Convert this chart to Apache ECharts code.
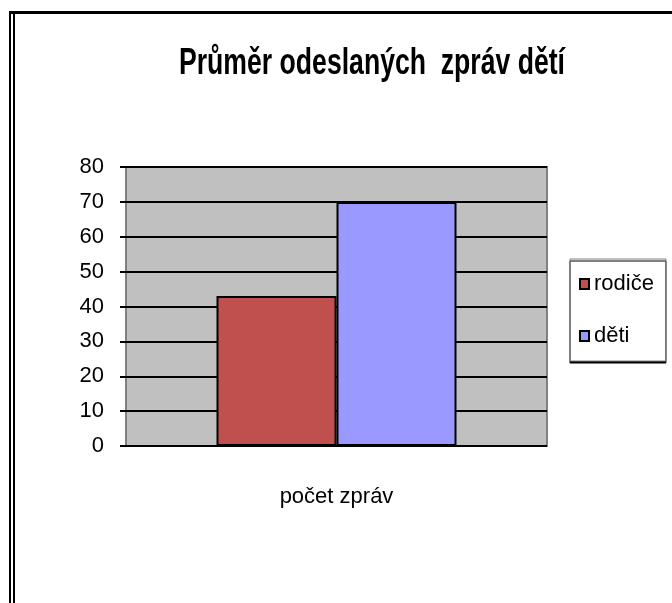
<!DOCTYPE html>
<html>
<head>
<meta charset="utf-8">
<script src="https://cdn.jsdelivr.net/npm/echarts@6/dist/echarts.min.js"></script>
<style>
  html, body { margin: 0; padding: 0; background: #fff; }
  #chart { width: 672px; height: 603px; }
</style>
</head>
<body>
<div id="chart"></div>
<script>
// chart data
const categories = ["počet zpráv"];
const seriesNames = ["rodiče", "děti"];
const parentsValues = [43];
const childrenValues = [70];
const yTicks = [0, 10, 20, 30, 40, 50, 60, 70, 80];
const titleText = "Průměr odeslaných  zpráv dětí";

const FONT = '"Liberation Sans", Arial, sans-serif';

// squeeze the title to the narrow width of the original
function titleScale() {
  const ctx = document.createElement("canvas").getContext("2d");
  ctx.font = "bold 36px " + FONT;
  const w = ctx.measureText(titleText).width;
  return 386 / w;
}

const chart = echarts.init(document.getElementById("chart"));

const option = {
  backgroundColor: "#ffffff",
  animation: false,
  textStyle: { fontFamily: FONT, color: "#000" },
  grid: {
    left: 126,
    right: 125,
    top: 167,
    bottom: 157,
    show: true,
    backgroundColor: "#c0c0c0",
    borderColor: "#808080",
    borderWidth: 2,
  },
  legend: {
    orient: "vertical",
    left: 570,
    top: 259,
    itemWidth: 9,
    itemHeight: 10,
    itemGap: 30,
    padding: [14, 12, 14, 9],
    borderColor: "#808080",
    borderWidth: 1,
    shadowColor: "#000",
    shadowOffsetY: 2,
    shadowBlur: 0,
    backgroundColor: "#fff",
    icon: "rect",
    textStyle: { fontFamily: FONT, fontSize: 22, color: "#000", padding: [0, 0, 0, 0] },
    data: seriesNames,
  },
  xAxis: {
    type: "category",
    data: categories,
    axisLine: { show: false },
    axisTick: { show: false },
    axisLabel: { margin: 40, fontSize: 22, color: "#000", fontFamily: FONT },
  },
  yAxis: {
    type: "value",
    min: yTicks[0],
    max: yTicks[yTicks.length - 1],
    interval: 10,
    axisLine: { show: false },
    axisTick: { show: true, length: 6, lineStyle: { color: "#000", width: 2 } },
    axisLabel: { margin: 22, fontSize: 22, color: "#000", fontFamily: FONT, padding: [4, 0, 0, 0] },
    splitLine: { lineStyle: { color: "#000", width: 2 } },
  },
  series: [
    {
      name: seriesNames[0],
      type: "bar",
      data: parentsValues,
      barWidth: 120,
      barGap: "0%",
      itemStyle: { color: "#c0504d", borderColor: "#000", borderWidth: 2 },
    },
    {
      name: seriesNames[1],
      type: "bar",
      data: childrenValues,
      barWidth: 120,
      barGap: "0%",
      itemStyle: { color: "#9999ff", borderColor: "#000", borderWidth: 2 },
    },
  ],
  graphic: [
    {
      type: "text",
      x: 372,
      y: 64,
      scaleX: titleScale(),
      style: {
        text: titleText,
        font: "bold 36px " + FONT,
        fill: "#000",
        align: "center",
        verticalAlign: "middle",
      },
    },
    // outer frame: thick top edge, double left edge
    { type: "rect", shape: { x: 9, y: 11, width: 663, height: 3 }, style: { fill: "#000" } },
    { type: "rect", shape: { x: 9, y: 11, width: 2, height: 592 }, style: { fill: "#000" } },
    { type: "rect", shape: { x: 13, y: 11, width: 2, height: 592 }, style: { fill: "#000" } },
  ],
};

chart.setOption(option);
</script>
</body>
</html>
